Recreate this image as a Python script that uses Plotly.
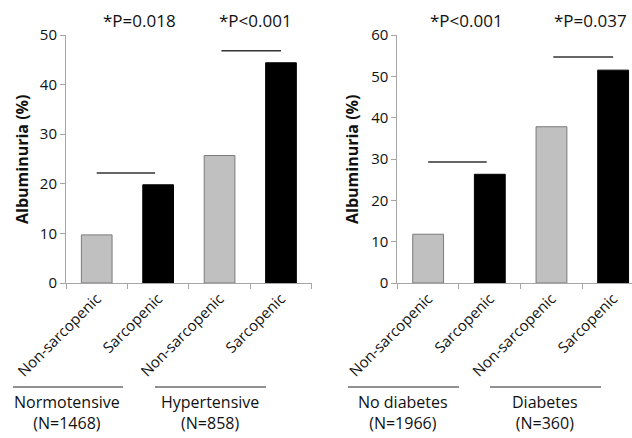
import plotly.graph_objects as go

# ---- data ----
sarc_labels = ["Non-sarcopenic", "Sarcopenic", "Non-sarcopenic", "Sarcopenic"]
htn_values = [9.7, 19.8, 25.7, 44.4]
dm_values = [11.8, 26.3, 37.8, 51.5]
htn_groups = ["Normotensive", "Hypertensive"]
htn_ns = ["(N=1468)", "(N=858)"]
dm_groups = ["No diabetes", "Diabetes"]
dm_ns = ["(N=1966)", "(N=360)"]
htn_pvals = ["*P=0.018", "*P<0.001"]
dm_pvals = ["*P<0.001", "*P=0.037"]
htn_sig_y = [22.2, 46.8]
dm_sig_y = [29.3, 54.7]
y_title = "Albuminuria (%)"

# ---- style ----
W, H = 632, 438
FONT = "Open Sans"
AX = "#a6a6a6"
fill = ["#c0c0c0", "#000000", "#c0c0c0", "#000000"]
edge = ["#7a7a7a", "#000000", "#7a7a7a", "#000000"]
xpos = [0, 1, 2, 3]

def px(x):
    return x / W

def py(y):
    return (H - y) / H

fig = go.Figure()
fig.add_trace(go.Bar(x=xpos, y=htn_values, width=0.5,
                     marker=dict(color=fill, line=dict(color=edge, width=1)),
                     xaxis="x", yaxis="y", showlegend=False, hoverinfo="skip"))
fig.add_trace(go.Bar(x=xpos, y=dm_values, width=0.5,
                     marker=dict(color=fill, line=dict(color=edge, width=1)),
                     xaxis="x2", yaxis="y2", showlegend=False, hoverinfo="skip"))

ydom = [py(283), py(35)]

def xax(domain, rng, anchor):
    return dict(domain=domain, range=rng, anchor=anchor, automargin=False,
                tickvals=xpos, ticktext=sarc_labels, tickangle=-45,
                ticks="", showline=True, linecolor=AX, linewidth=1,
                showgrid=False, zeroline=False, fixedrange=True,
                tickfont=dict(family=FONT, size=15, color="#111"),
                minor=dict(tickvals=[-0.5, 0.5, 1.5, 2.5, 3.5], ticks="outside",
                           ticklen=5, tickcolor=AX, showgrid=False))

def yax(rng, anchor):
    return dict(domain=ydom, range=rng, anchor=anchor, dtick=10, automargin=False,
                ticks="outside", ticklen=5, tickcolor=AX,
                showline=True, linecolor=AX, linewidth=1,
                showgrid=False, zeroline=False, fixedrange=True,
                tickfont=dict(family=FONT, size=15, color="#111"))

fig.update_layout(
    width=W, height=H,
    margin=dict(l=0, r=0, t=0, b=0, autoexpand=False),
    paper_bgcolor="white", plot_bgcolor="white",
    font=dict(family=FONT, color="#111"),
    bargap=0.5,
    xaxis=xax([px(66), px(311.7)], [-0.5, 3.5], "y"),
    yaxis=yax([0, 50], "x"),
    xaxis2=xax([px(397.3), 1.0], [-0.5, 3.306], "y2"),
    yaxis2=yax([0, 60], "x2"),
)

shapes = []
annotations = []

# significance lines (data coords)
sig_spans = [(0.0, 0.95), (2.03, 3.0)]
for (x0, x1), yv in zip(sig_spans, htn_sig_y):
    shapes.append(dict(type="line", xref="x", yref="y", x0=x0, x1=x1, y0=yv, y1=yv,
                       line=dict(color="#333", width=1.5)))
for (x0, x1), yv in zip(sig_spans, dm_sig_y):
    shapes.append(dict(type="line", xref="x2", yref="y2", x0=x0, x1=x1, y0=yv, y1=yv,
                       line=dict(color="#333", width=1.5)))

# p-value texts
for xv, t in zip([0.7, 2.59], htn_pvals):
    annotations.append(dict(text=t, xref="x", yref="paper", x=xv, y=py(21),
                            showarrow=False, xanchor="center", yanchor="middle",
                            font=dict(family=FONT, size=17, color="#111")))
for xv, t in zip([0.63, 2.64], dm_pvals):
    annotations.append(dict(text=t, xref="x2", yref="paper", x=xv, y=py(21),
                            showarrow=False, xanchor="center", yanchor="middle",
                            font=dict(family=FONT, size=17, color="#111")))

# y titles
for xc in [22, 352]:
    annotations.append(dict(text="<b>" + y_title + "</b>", xref="paper", yref="paper",
                            x=px(xc), y=py(160), textangle=-90, showarrow=False,
                            xanchor="center", yanchor="middle",
                            font=dict(family=FONT, size=16, color="#111")))

# group lines & labels
group_lines = [(13, 123), (155, 266), (348, 459), (490, 601)]
for x0, x1 in group_lines:
    shapes.append(dict(type="line", xref="paper", yref="paper",
                       x0=px(x0), x1=px(x1), y0=py(387), y1=py(387),
                       line=dict(color="#222", width=1.2)))
centers = [67, 210, 403, 545]
for xc, g, n in zip(centers, htn_groups + dm_groups, htn_ns + dm_ns):
    annotations.append(dict(text=g + "<br>" + n, xref="paper", yref="paper",
                            x=px(xc), y=py(412), align="center",
                            showarrow=False, xanchor="center", yanchor="middle",
                            font=dict(family=FONT, size=16, color="#111")))

fig.update_layout(shapes=shapes, annotations=annotations)
fig.write_html("out.html", config={"displayModeBar": False, "staticPlot": True},
               post_script="document.body.style.margin='0px';document.body.style.overflow='hidden';")
